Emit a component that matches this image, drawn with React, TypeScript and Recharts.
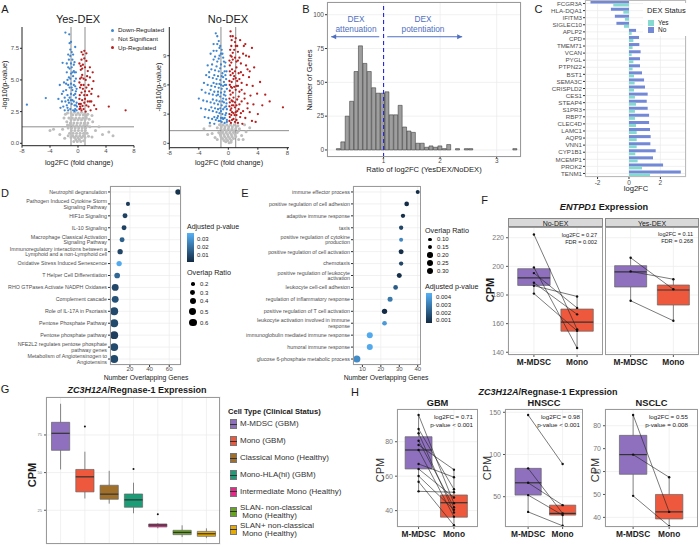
import React from "react";
import {
  ScatterChart,
  Scatter,
  ComposedChart,
  BarChart,
  Bar,
  XAxis,
  YAxis,
  ZAxis,
  CartesianGrid,
  ReferenceLine,
  ReferenceArea,
  Cell,
} from "recharts";

// ─── Styling constants ────────────────────────────────────────────────────────

const FONT = '"Liberation Sans", Arial, sans-serif';
const AXT = "#4d4d4d";
const GRID = "#ebebeb";
const FRAME = "#9a9a9a";
const BLUE = "#3f86d0";
const RED = "#b8201f";
const NSGRAY = "#bdbdbd";
const ARROW = "#4f6fc1";
const MDSC = "#8e70be";
const MONO = "#ee583c";

// ─── A: volcano points, [log2FC, -log10(p)] ───────────────────────────────────

const yesDown = [
  [-7.3, 3.05], [-4.6, 3.57], [-2.2, 6.35], [-1.8, 8.74], [-1.25, 8.6], [-1.0, 8.0], [-0.9, 7.2],
  [-1.1, 6.9], [-0.8, 6.6], [-0.6, 6.2], [-1.4, 6.0], [-1.6, 5.6], [-2.6, 4.6], [-2.0, 4.8],
  [-1.3, 5.2], [-1.0, 5.5], [-0.7, 5.3], [-0.5, 4.9], [-0.4, 4.5], [-1.2, 4.4], [-1.7, 4.2],
  [-2.3, 3.9], [-2.8, 3.5], [-1.9, 3.6], [-1.5, 3.8], [-1.0, 3.9], [-0.6, 3.8], [-0.3, 3.6],
  [-0.2, 3.2], [-0.5, 3.0], [-0.9, 3.1], [-1.3, 3.2], [-1.6, 3.0], [-2.1, 2.9], [-2.5, 2.8],
  [-1.1, 2.7], [-0.7, 2.6], [-0.4, 2.7], [-1.9, 2.6], [-1.4, 2.6], [-0.8, 4.2], [-1.1, 7.4],
  [-0.9, 6.0], [-0.6, 5.7], [-1.3, 6.6], [-0.3, 4.1], [-0.8, 3.4], [-1.2, 3.6], [-0.5, 2.55],
  [-1.0, 4.7], [-0.2, 2.6], [-0.3, 3.0], [-0.6, 3.3], [-1.0, 3.4], [-1.4, 3.4], [-1.8, 3.3],
  [-0.4, 3.9], [-0.9, 4.4], [-1.4, 4.6], [-0.2, 4.3], [-0.6, 4.6], [-1.1, 5.1], [-1.5, 5.0],
  [-0.3, 5.1], [-0.8, 5.6], [-1.2, 5.9], [-0.5, 6.4], [-0.7, 7.0], [-1.2, 7.9], [-1.4, 7.0],
  [-0.5, 5.6], [-1.7, 4.7], [-2.1, 4.1], [-0.15, 2.9], [-1.5, 2.8], [-2.3, 3.3], [-0.4, 7.6],
  [-1.0, 6.3], [-1.6, 6.3], [-0.3, 5.6],
];
const yesNS = [
  [-1.5, 2.4], [-1.0, 2.4], [-0.5, 2.45], [0, 2.4], [0.5, 2.45], [1.0, 2.4], [1.4, 2.3],
  [-1.3, 2.0], [-0.8, 2.0], [-0.3, 2.0], [0.2, 2.0], [0.7, 2.0], [1.2, 2.0], [1.6, 1.9],
  [-1.6, 1.7], [-1.1, 1.6], [-0.6, 1.6], [-0.1, 1.6], [0.4, 1.6], [0.9, 1.6], [1.4, 1.6],
  [-1.4, 1.2], [-0.9, 1.2], [-0.4, 1.2], [0.1, 1.2], [0.6, 1.2], [1.1, 1.2], [1.7, 1.3],
  [-1.2, 0.8], [-0.7, 0.8], [-0.2, 0.8], [0.3, 0.8], [0.8, 0.8], [1.3, 0.8], [-1.0, 0.45],
  [-0.5, 0.45], [0, 0.45], [0.5, 0.45], [1.0, 0.45], [-0.6, 0.15], [-0.1, 0.15], [0.4, 0.15],
  [0.8, 0.2], [-2.2, 1.1], [-3.5, 1.1], [-2.6, 0.7], [-1.9, 0.4], [2.1, 1.7], [2.5, 1.0],
  [3.5, 0.7], [4.4, 0.9], [5.0, 0.6], [2.0, 0.5], [-2.0, 2.0], [2.0, 2.2], [-4.0, 1.0], [3.0, 1.3],
  [-1.8, 2.3], [-0.75, 2.25], [-0.25, 2.25], [0.25, 2.25], [0.75, 2.25], [1.2, 2.2], [-1.5, 1.45],
  [-1.0, 1.85], [-0.5, 1.85], [0, 1.85], [0.5, 1.85], [1.0, 1.85], [-1.2, 1.4], [-0.7, 1.4],
  [-0.2, 1.4], [0.3, 1.4], [0.8, 1.4], [1.3, 1.4], [-0.95, 1.0], [-0.45, 1.0], [0.05, 1.0],
  [0.55, 1.0], [1.05, 1.0], [-0.75, 0.6], [-0.25, 0.6], [0.25, 0.6], [0.75, 0.6], [-0.3, 0.3],
  [0.2, 0.3], [-1.4, 0.6], [1.5, 0.55],
];
const yesUp = [
  [4.4, 2.9], [6.8, 2.6], [2.9, 3.7], [2.0, 4.3], [1.7, 3.3], [1.2, 6.5], [0.9, 7.3], [0.7, 7.0],
  [0.5, 6.6], [1.0, 6.0], [1.4, 5.7], [1.7, 5.2], [0.4, 5.8], [0.3, 5.1], [0.6, 5.4], [1.1, 5.0],
  [1.5, 4.6], [2.2, 4.9], [0.8, 4.6], [0.3, 4.4], [0.5, 4.0], [1.0, 4.1], [1.3, 3.8], [1.9, 3.9],
  [0.2, 3.5], [0.6, 3.4], [0.9, 3.2], [1.2, 3.0], [1.5, 2.9], [2.3, 3.0], [0.3, 2.9], [0.5, 2.6],
  [0.8, 2.7], [1.1, 2.5], [1.8, 2.6], [2.6, 2.7], [0.4, 3.1], [0.2, 2.7], [1.6, 4.1], [0.7, 6.2],
  [0.15, 3.1], [0.25, 3.8], [0.45, 4.6], [0.7, 4.3], [0.9, 3.8], [1.4, 3.3], [0.2, 4.8],
  [0.5, 5.2], [0.8, 5.1], [1.2, 4.4], [0.4, 6.1], [0.6, 5.9], [0.9, 6.7], [1.3, 5.3], [0.35, 2.75],
  [0.65, 2.95], [1.0, 3.5], [1.9, 3.3], [2.1, 5.6], [1.7, 6.0], [0.2, 6.3], [1.2, 7.1], [0.5, 7.2],
];
const noDown = [
  [-1.7, 11.3], [-1.5, 11.0], [-1.3, 10.5], [-2.0, 10.2], [-1.1, 10.0], [-0.9, 9.6], [-1.6, 9.5],
  [-2.4, 9.2], [-1.2, 9.0], [-0.7, 8.8], [-2.0, 8.6], [-1.5, 8.4], [-2.8, 8.0], [-1.0, 8.1],
  [-0.5, 7.9], [-2.3, 7.6], [-1.8, 7.5], [-1.3, 7.4], [-0.8, 7.2], [-0.4, 7.0], [-3.0, 7.0],
  [-2.6, 6.8], [-2.1, 6.7], [-1.6, 6.6], [-1.1, 6.5], [-0.6, 6.3], [-0.3, 6.0], [-3.3, 6.2],
  [-2.8, 6.0], [-2.3, 5.9], [-1.8, 5.8], [-1.3, 5.7], [-0.9, 5.6], [-0.5, 5.3], [-3.6, 5.5],
  [-3.1, 5.2], [-2.6, 5.1], [-2.1, 5.0], [-1.6, 4.9], [-1.1, 4.8], [-0.7, 4.6], [-0.3, 4.5],
  [-4.0, 4.6], [-3.4, 4.4], [-2.9, 4.3], [-2.4, 4.2], [-1.9, 4.1], [-1.4, 4.0], [-0.9, 3.9],
  [-0.5, 3.7], [-0.2, 3.5], [-3.7, 3.6], [-3.1, 3.5], [-2.6, 3.4], [-2.1, 3.3], [-1.6, 3.2],
  [-1.2, 3.1], [-0.8, 3.0], [-0.4, 2.9], [-3.2, 2.7], [-2.7, 2.6], [-2.2, 2.5], [-1.7, 2.4],
  [-1.3, 2.3], [-0.9, 2.2], [-0.5, 2.1], [-0.2, 2.4], [-2.5, 2.1], [-1.9, 2.0], [-1.0, 2.6],
  [-0.7, 2.5], [-0.3, 3.1], [-1.4, 2.8], [-1.1, 3.6], [-0.6, 4.2], [-1.4, 5.3], [-1.0, 6.0],
  [-0.7, 6.8], [-0.4, 8.3], [-1.0, 9.2], [-0.2, 2.2], [-0.5, 2.6], [-0.8, 2.6], [-1.1, 2.3],
  [-1.5, 2.6], [-1.9, 2.7], [-0.3, 3.8], [-0.7, 3.5], [-1.0, 3.3], [-1.4, 3.5], [-1.8, 3.6],
  [-2.3, 3.7], [-0.4, 4.9], [-0.8, 4.3], [-1.2, 4.3], [-1.6, 4.4], [-2.1, 4.5], [-0.2, 5.6],
  [-0.6, 5.0], [-1.0, 5.2], [-1.4, 5.0], [-1.9, 5.3], [-2.4, 5.5], [-0.3, 6.6], [-0.7, 5.9],
  [-1.2, 6.1], [-1.6, 6.1], [-2.0, 6.2], [-0.5, 7.4], [-0.9, 6.9], [-1.4, 6.9], [-1.9, 7.0],
  [-2.6, 7.3], [-0.6, 8.4], [-1.1, 7.7], [-1.6, 7.9], [-2.2, 8.1], [-0.8, 9.2], [-1.3, 8.7],
  [-1.8, 8.9], [-1.2, 9.8], [-2.0, 9.5], [-1.5, 10.2], [-0.25, 4.1], [-0.45, 6.0], [-0.25, 7.4],
];
const noNS = [
  [-1.2, 1.9], [-0.7, 1.9], [-0.2, 1.9], [0.3, 1.9], [0.8, 1.9], [1.3, 1.8], [-1.0, 1.5],
  [-0.5, 1.5], [0, 1.5], [0.5, 1.5], [1.0, 1.5], [-1.3, 1.1], [-0.8, 1.1], [-0.3, 1.1],
  [0.2, 1.1], [0.7, 1.1], [1.2, 1.1], [-1.0, 0.7], [-0.5, 0.7], [0, 0.7], [0.5, 0.7], [1.0, 0.7],
  [-0.6, 0.3], [-0.1, 0.3], [0.4, 0.3], [0.1, 0.05], [-2.2, 1.0], [-2.8, 0.9], [-1.8, 0.6],
  [1.8, 0.8], [2.4, 1.2], [2.0, 0.4], [-3.3, 1.5], [2.9, 1.6], [-1.5, 1.6], [-0.95, 1.7],
  [-0.45, 1.7], [0.05, 1.7], [0.55, 1.7], [1.05, 1.7], [1.5, 1.5], [-0.75, 1.3], [-0.25, 1.3],
  [0.25, 1.3], [0.75, 1.3], [1.4, 1.3], [-1.1, 0.9], [-0.6, 0.9], [-0.1, 0.9], [0.4, 0.9],
  [0.9, 0.9], [-0.8, 0.5], [-0.3, 0.5], [0.2, 0.5], [0.7, 0.5], [-0.35, 0.15], [0.35, 0.1],
  [-1.5, 0.4], [1.4, 0.4], [-2.5, 1.8], [2.2, 1.9],
];
const noUp = [
  [0.3, 11.5], [0.6, 11.0], [1.0, 10.8], [1.6, 10.6], [2.3, 10.2], [3.2, 9.8], [0.4, 10.0],
  [0.8, 9.6], [1.3, 9.4], [2.0, 9.2], [2.8, 8.9], [0.3, 9.0], [0.6, 8.6], [1.1, 8.4], [1.7, 8.2],
  [2.4, 8.0], [3.5, 7.8], [0.2, 8.0], [0.5, 7.6], [0.9, 7.4], [1.4, 7.2], [2.0, 7.0], [2.8, 6.8],
  [0.3, 7.0], [0.7, 6.6], [1.2, 6.4], [1.8, 6.2], [2.5, 6.0], [3.3, 5.9], [4.3, 6.3], [0.2, 6.0],
  [0.5, 5.7], [1.0, 5.5], [1.5, 5.3], [2.2, 5.1], [3.0, 4.9], [0.3, 5.0], [0.7, 4.7], [1.2, 4.5],
  [1.8, 4.3], [2.6, 4.1], [3.4, 4.0], [0.2, 4.2], [0.5, 3.9], [0.9, 3.7], [1.4, 3.5], [2.0, 3.3],
  [2.9, 3.2], [0.3, 3.4], [0.7, 3.1], [1.1, 2.9], [1.6, 2.7], [2.3, 2.6], [0.2, 2.7], [0.5, 2.4],
  [0.9, 2.2], [1.3, 2.1], [1.9, 2.0], [3.2, 2.3], [7.4, 3.7], [5.0, 5.0], [4.0, 3.0], [3.7, 2.2],
  [2.6, 7.6], [1.0, 10.0], [0.4, 8.3], [0.8, 6.9], [1.1, 5.9], [0.6, 4.3], [1.0, 3.2], [0.4, 2.9],
  [1.5, 8.8], [2.1, 10.0], [0.15, 2.3], [0.35, 2.1], [0.7, 2.5], [1.1, 2.4], [0.15, 3.0],
  [0.5, 3.2], [0.85, 2.9], [1.2, 3.3], [1.7, 3.1], [0.15, 3.8], [0.4, 3.6], [0.7, 3.9], [1.1, 3.9],
  [1.5, 4.0], [0.15, 4.6], [0.45, 4.4], [0.9, 4.2], [1.4, 4.8], [0.2, 5.4], [0.6, 5.2], [0.8, 5.8],
  [1.3, 5.9], [1.8, 5.5], [0.15, 6.4], [0.45, 6.3], [1.0, 6.7], [1.5, 6.6], [0.2, 7.4], [0.6, 7.2],
  [1.1, 7.8], [1.7, 7.3], [0.15, 8.5], [0.45, 8.9], [0.9, 8.8], [1.3, 8.5], [0.25, 9.6], [0.6, 9.3],
  [1.2, 10.0], [0.45, 10.6], [0.9, 10.4], [2.4, 9.0], [2.9, 7.4], [2.2, 4.6], [2.6, 3.6],
  [3.9, 5.1], [4.6, 3.9], [5.6, 4.3], [0.35, 5.8], [0.3, 11.0],
];

// ─── B: histogram of log2FC ratio ─────────────────────────────────────────────

const ratioBins = [
  0.205, 0.283, 0.361, 0.439, 0.517, 0.595, 0.673, 0.751, 0.829, 0.907, 0.985, 1.063, 1.141,
  1.219, 1.297, 1.375, 1.453, 1.531, 1.609, 1.687, 1.765, 1.843, 1.921, 1.999, 2.077, 2.155,
  2.233, 2.311, 2.389, 2.467, 2.545, 2.623, 2.701, 2.779, 2.857, 2.935, 3.013, 3.091, 3.169,
  3.247, 3.325,
];
const ratioCounts = [
  1, 6, 25, 36, 58, 77, 64, 58, 46, 42, 42, 43, 26, 26, 33, 17, 14, 13, 5, 5, 2, 3, 2, 3, 1, 4,
  0, 1, 0, 1, 1, 0, 0, 0, 0, 0, 0, 0, 0, 0, 1,
];

// ─── C: log2FC per gene by DEX status ─────────────────────────────────────────

const cGenes = [
  "FCGR3A", "HLA-DQA1", "IFITM3", "SIGLEC10", "APLP2", "CPD", "TMEM71", "VCAN", "PYGL", "PTPN22",
  "BST1", "SEMA3C", "CRISPLD2", "CES1", "STEAP4", "S1PR3", "RBP7", "CLEC4D", "LAMC1", "AQP9",
  "VNN1", "CYP1B1", "MCEMP1", "PROK2", "TENM1",
];
const cNo = [
  -2.45, -1.15, -0.9, -0.8, 0.45, 0.64, 0.66, 0.74, 0.7, 0.7, 0.83, 0.96, 1.02, 1.19, 1.13, 1.19,
  1.28, 1.28, 1.34, 1.38, 1.36, 1.7, 1.53, 2.17, 3.3,
];
const cYes = [
  -1.0, -0.36, -0.26, -0.32, 0.17, 0.28, 0.23, 0.17, 0.28, 0.23, 0.32, 0.36, 0.32, 0.38, 0.45,
  0.38, 0.38, 0.45, 0.49, 0.49, 0.49, 0.4, 0.55, 0.83, 1.34,
];

// ─── D: pathway enrichment ────────────────────────────────────────────────────

const dTerms = [
  "Neutrophil degranulation",
  "Pathogen Induced Cytokine Storm\nSignaling Pathway",
  "HIF1α Signaling",
  "IL-10 Signaling",
  "Macrophage Classical Activation\nSignaling Pathway",
  "Immunoregulatory interactions between a\nLymphoid and a non-Lymphoid cell",
  "Oxidative Stress Induced Senescence",
  "T Helper Cell Differentiation",
  "RHO GTPases Activate NADPH Oxidases",
  "Complement cascade",
  "Role of IL-17A in Psoriasis",
  "Pentose Phosphate Pathway",
  "Pentose phosphate pathway",
  "NFE2L2 regulates pentose phosphate\npathway genes",
  "Metabolism of Angiotensinogen to\nAngiotensins",
];
const dGenes = [69, 18, 15, 14, 12, 10, 9, 7, 5, 5, 4, 4, 4, 4, 4];
const dPadj = [0.004, 0.006, 0.008, 0.008, 0.016, 0.009, 0.036, 0.018, 0.009, 0.012, 0.01, 0.01, 0.007, 0.01, 0.01];
const dRatio = [0.35, 0.23, 0.3, 0.3, 0.3, 0.33, 0.33, 0.37, 0.5, 0.5, 0.63, 0.63, 0.63, 0.63, 0.63];

// ─── E: GO enrichment ─────────────────────────────────────────────────────────

const eTerms = [
  "immune effector process",
  "positive regulation of cell adhesion",
  "adaptive immune response",
  "taxis",
  "positive regulation of cytokine\nproduction",
  "positive regulation of cell activation",
  "chemotaxis",
  "positive regulation of leukocyte\nactivation",
  "leukocyte cell-cell adhesion",
  "regulation of inflammatory response",
  "positive regulation of T cell activation",
  "leukocyte activation involved in immune\nresponse",
  "immunoglobulin mediated immune response",
  "humoral immune response",
  "glucose 6-phosphate metabolic process",
];
const eGenes = [40, 34, 32, 31, 31, 31, 31, 30, 28, 25, 22, 22, 14, 14, 7];
const ePadj = [0.0008, 0.0008, 0.0009, 0.0015, 0.0033, 0.0009, 0.0015, 0.0009, 0.0021, 0.0029, 0.0008, 0.0038, 0.0042, 0.0042, 0.0034];
const eRatio = [0.13, 0.164, 0.146, 0.146, 0.13, 0.183, 0.146, 0.183, 0.164, 0.183, 0.204, 0.164, 0.25, 0.25, 0.33];

// ─── F: ENTPD1, boxes as [lo, q1, median, q3, hi], pairs as [M-MDSC, Mono] ───

const pairGroups = ["M-MDSC", "Mono"];
const fNoBox = [[181, 186.7, 192, 198.4, 199.3], [143, 154.7, 161, 170.2, 179]];
const fNoPairs = [[222.3, 156], [199.3, 143], [195.3, 171], [188.6, 166.5], [186.5, 179], [181, 155]];
const fYesBox = [[176, 185.6, 196.1, 200.5, 206], [162, 173, 183.5, 187, 190.5]];
const fYesPairs = [[206, 184], [196.5, 191], [176, 162]];

// ─── G: ZC3H12A across cell types ─────────────────────────────────────────────

const gTypes = [
  "M-MDSC (GBM)", "Mono (GBM)", "Classical Mono (Healthy)", "Mono-HLA(hi) (GBM)",
  "Intermediate Mono (Healthy)", "SLAN- non-classical\nMono (Healthy)", "SLAN+ non-classical\nMono (Healthy)",
];
const gColors = ["#8e70be", "#ee583c", "#a0702a", "#1b9e77", "#e7298a", "#66a61e", "#e6ab02"];
const gBox = [
  [52.1, 64.8, 76.1, 83.4, 95.7],
  [32.8, 37.2, 47.2, 52.1, 63.9],
  [29.4, 32.3, 35.7, 41.6, 51.2],
  [23, 27, 31.9, 35.8, 43.3],
  [13, 13.9, 15.2, 15.9, 16.5],
  [7.2, 8.8, 10.3, 11.7, 15],
  [6.5, 7.7, 9.4, 11, 13],
];
const gOutliers = [[2, 80.6], [4, 52.4], [5, 22.3]];

// ─── H: ZC3H12A by cancer ─────────────────────────────────────────────────────

const hGbmBox = [[51.2, 64.2, 75.2, 82.9, 95.5], [31.5, 36.2, 44.6, 49.1, 63.8]];
const hGbmPairs = [
  [95.5, 44.3], [87.4, 52.4], [84.9, 38.9], [80.6, 42], [78.1, 63.8], [75.2, 36.5],
  [67.1, 59.4], [64.2, 47.6], [60.1, 40.5], [56.8, 31.5], [51.2, 50.7],
];
const hHnsccBox = [[32, 51.9, 66.5, 83.6, 83.6], [15.5, 28.2, 30.2, 40, 40]];
const hHnsccPairs = [[146.8, 88.7], [83.6, 30.2], [66.5, 40], [51.9, 28.2], [32, 15.5]];
const hNsclcBox = [[49.4, 58.8, 67.4, 75.8, 84.7], [36.2, 39.3, 42.4, 50, 57.5]];
const hNsclcPairs = [[84.7, 42.4], [67.4, 57.5], [49.4, 36.2]];

// ─── Helpers ──────────────────────────────────────────────────────────────────

const xy = (a: number[][]) => a.map(([x, y]) => ({ x, y }));

const dotShape = (fill: string, r: number) => (p: any) =>
  p.cx == null ? <g /> : <circle cx={p.cx} cy={p.cy} r={r} fill={fill} />;

/** ggplot's default continuous colour scale (dark navy -> light blue). */
function pcol(p: number, lo: number, hi: number): string {
  const t = Math.max(0, Math.min(1, (p - lo) / (hi - lo)));
  const a = [0x13, 0x2b, 0x43];
  const b = [0x56, 0xb1, 0xf7];
  return `rgb(${a.map((v, i) => Math.round(v + (b[i] - v) * t)).join(",")})`;
}

function T({ x, y, s = 7, c = "#1a1a1a", b = false, i = false, a = "m", r = 0, children }: any) {
  const tx = a === "m" ? "-50%" : a === "e" ? "-100%" : "0%";
  return (
    <div
      style={{
        position: "absolute",
        left: x,
        top: y,
        transform: `translate(${tx}, -50%)${r ? ` rotate(${r}deg)` : ""}`,
        fontSize: s,
        lineHeight: 1,
        color: c,
        fontWeight: b ? 700 : 400,
        fontStyle: i ? "italic" : "normal",
        whiteSpace: "pre",
        fontFamily: FONT,
      }}
    >
      {children}
    </div>
  );
}

function Frame({ x, y, w, h, c = FRAME }: any) {
  return (
    <div
      style={{
        position: "absolute", left: x, top: y, width: w, height: h,
        border: `0.8px solid ${c}`, boxSizing: "border-box", pointerEvents: "none",
      }}
    />
  );
}

function Dot({ x, y, r, c = "#000" }: any) {
  return (
    <div
      style={{
        position: "absolute", left: x - r, top: y - r, width: 2 * r, height: 2 * r,
        borderRadius: "50%", background: c,
      }}
    />
  );
}

// ─── Panel A ──────────────────────────────────────────────────────────────────

function Volcano({ left, width, yW, xH, xDomain, yDomain, yTicks, yFmt, down, ns, up }: any) {
  return (
    <div style={{ position: "absolute", left, top: 0 }}>
      <ScatterChart width={width} height={162} margin={{ top: 27, right: 4, bottom: 0, left: 0 }}>
        <XAxis
          type="number" dataKey="x" domain={xDomain} ticks={[-8, -4, 0, 4, 8]} allowDataOverflow
          height={xH} tick={{ fontSize: 6, fill: AXT }} tickSize={2} tickMargin={1}
          axisLine={{ stroke: "#222" }} tickLine={{ stroke: "#222" }}
        />
        <YAxis
          type="number" dataKey="y" domain={yDomain} ticks={yTicks} tickFormatter={yFmt} allowDataOverflow
          width={yW} tick={{ fontSize: 6, fill: AXT }} tickSize={2} tickMargin={1}
          axisLine={{ stroke: "#222" }} tickLine={{ stroke: "#222" }}
        />
        <Scatter data={xy(ns)} shape={dotShape(NSGRAY, 1.5)} isAnimationActive={false} />
        <Scatter data={xy(down)} shape={dotShape(BLUE, 1.15)} isAnimationActive={false} />
        <Scatter data={xy(up)} shape={dotShape(RED, 1.15)} isAnimationActive={false} />
        <ReferenceLine x={-1} stroke="#707070" strokeWidth={0.8} />
        <ReferenceLine x={1} stroke="#707070" strokeWidth={0.8} />
        <ReferenceLine y={1.3} stroke="#707070" strokeWidth={0.8} />
      </ScatterChart>
    </div>
  );
}

// ─── Panels D/E ───────────────────────────────────────────────────────────────

const TermTick = (props: any) => {
  const { x, y, payload } = props;
  const lines = String(payload.value).split("\n");
  const lh = 5.7;
  const y0 = y - ((lines.length - 1) * lh) / 2 + 1.9;
  return (
    <text x={x} y={y0} textAnchor="end" fontSize={5.3} fill={AXT} fontFamily={FONT}>
      {lines.map((l, i) => (
        <tspan key={i} x={x} y={y0 + i * lh}>{l}</tspan>
      ))}
    </text>
  );
};

function DotPlot({ left, yW, width, terms, genes, padj, ratio, xDomain, xTicks, zDomain, zRange, pLo, pHi }: any) {
  const data = terms.map((t: string, i: number) => ({ term: t, n: genes[i], p: padj[i], ratio: ratio[i] }));
  return (
    <div style={{ position: "absolute", left, top: 180 }}>
      <ScatterChart width={width} height={200} margin={{ top: 6, right: 4, bottom: 0, left: 0 }}>
        <CartesianGrid stroke={GRID} strokeWidth={0.7} />
        <XAxis
          type="number" dataKey="n" domain={xDomain} ticks={xTicks} allowDataOverflow height={15}
          tick={{ fontSize: 6, fill: AXT }} tickSize={2} tickMargin={0} axisLine={false} tickLine={{ stroke: "#333" }}
        />
        <YAxis
          type="category" dataKey="term" scale="band" reversed allowDuplicatedCategory={false} interval={0}
          width={yW} tick={<TermTick />} tickSize={2} tickMargin={1} axisLine={false} tickLine={{ stroke: "#333" }}
        />
        <ZAxis type="number" dataKey="ratio" domain={zDomain} range={zRange} />
        <Scatter data={data} isAnimationActive={false}>
          {data.map((d: any, i: number) => (
            <Cell key={i} fill={pcol(d.p, pLo, pHi)} />
          ))}
        </Scatter>
      </ScatterChart>
    </div>
  );
}

// ─── Box plots (F, G, H) ──────────────────────────────────────────────────────

function BoxPanel(p: any) {
  const {
    left, top, width, height, mTop, mBottom = 0, yW, xH, xDomain, yDomain, yTicks, labels, boxes, colors,
    pairs = [], outliers = [], hw, yFs = 7, hideY = false, hideX = false,
  } = p;
  const pos = labels.map((_: string, i: number) => i + 1);
  return (
    <div style={{ position: "absolute", left, top }}>
      <ScatterChart width={width} height={height} margin={{ top: mTop, right: 0, bottom: mBottom, left: 0 }}>
        <CartesianGrid stroke={GRID} strokeWidth={0.7} />
        <XAxis
          type="number" dataKey="x" domain={xDomain} ticks={pos} interval={0} allowDataOverflow
          tickFormatter={(v: number) => labels[Math.round(v) - 1] ?? ""} height={xH} hide={hideX}
          tick={{ fontSize: 8.3, fill: "#1a1a1a", fontWeight: 700 }} tickSize={2} tickMargin={2}
          axisLine={false} tickLine={{ stroke: "#555" }}
        />
        <YAxis
          type="number" dataKey="y" domain={yDomain} ticks={yTicks} allowDataOverflow width={yW} hide={hideY}
          tick={{ fontSize: yFs, fill: "#777" }} tickSize={2} tickMargin={2} axisLine={false} tickLine={{ stroke: "#555" }}
        />
        {boxes.map((b: number[], i: number) => [
          <ReferenceLine key={`wl${i}`} segment={[{ x: i + 1, y: b[0] }, { x: i + 1, y: b[1] }]} stroke="#555" strokeWidth={0.7} />,
          <ReferenceLine key={`wh${i}`} segment={[{ x: i + 1, y: b[3] }, { x: i + 1, y: b[4] }]} stroke="#555" strokeWidth={0.7} />,
          <ReferenceArea
            key={`bx${i}`} x1={i + 1 - hw} x2={i + 1 + hw} y1={b[1]} y2={b[3]}
            fill={colors[i]} fillOpacity={1} stroke="#666" strokeWidth={0.7}
          />,
          <ReferenceLine
            key={`md${i}`} segment={[{ x: i + 1 - hw, y: b[2] }, { x: i + 1 + hw, y: b[2] }]}
            stroke="#333" strokeWidth={1.2}
          />,
        ])}
        {pairs.map((pr: number[], i: number) => (
          <Scatter
            key={`p${i}`} data={[{ x: 1, y: pr[0] }, { x: 2, y: pr[1] }]}
            line={{ stroke: "#222", strokeWidth: 0.6 }} shape={dotShape("#111", 1.2)} isAnimationActive={false}
          />
        ))}
        {outliers.length > 0 && <Scatter data={xy(outliers)} shape={dotShape("#111", 1)} isAnimationActive={false} />}
      </ScatterChart>
    </div>
  );
}

// ─── App ──────────────────────────────────────────────────────────────────────

const arrowL = (p: any) => <path d={`M${p.cx},${p.cy} l5,-2.6 l0,5.2 z`} fill={ARROW} />;
const arrowR = (p: any) => <path d={`M${p.cx},${p.cy} l-5,-2.6 l0,5.2 z`} fill={ARROW} />;

export default function App() {
  const hist = ratioBins.map((x, i) => ({ x, y: ratioCounts[i] }));
  const cData = cGenes.map((g, i) => ({ gene: g, no: cNo[i], yes: cYes[i] }));

  // size legend radii follow the same linear area mapping as the ZAxis
  const dR = (v: number) => Math.sqrt((89 * (v - 0.082)) / Math.PI);
  const eR = (v: number) => Math.sqrt((131 * (v - 0.0336)) / Math.PI);

  return (
    <div
      style={{
        position: "absolute", left: 0, top: 0, width: 700, height: 545,
        background: "#fff", overflow: "hidden", fontFamily: FONT,
      }}
    >
      {/* ── A ── */}
      <T x={5} y={9} s={11}>A</T>
      <Volcano
        left={0} width={138} yW={22} xH={16.3} xDomain={[-8, 8]} yDomain={[-0.19, 9.18]}
        yTicks={[0, 2.5, 5, 7.5]} yFmt={(v: number) => v.toFixed(1)} down={yesDown} ns={yesNS} up={yesUp}
      />
      <Volcano
        left={145} width={148} yW={24.3} xH={14.3} xDomain={[-8, 8.22]} yDomain={[-0.45, 11.95]}
        yTicks={[0, 3, 6, 9]} yFmt={(v: number) => String(v)} down={noDown} ns={noNS} up={noUp}
      />
      <T x={78} y={18.5} s={11}>Yes-DEX</T>
      <T x={228} y={18.5} s={11}>No-DEX</T>
      <Dot x={112} y={30} r={1.5} c={BLUE} />
      <Dot x={112} y={39} r={1.5} c={NSGRAY} />
      <Dot x={112} y={47.7} r={1.5} c={RED} />
      <T x={118} y={30} s={6.2} a="s">Down-Regulated</T>
      <T x={118} y={39} s={6.2} a="s">Not Significant</T>
      <T x={118} y={47.7} s={6.2} a="s">Up-Regulated</T>
      <T x={5} y={85} s={7.3} r={-90}>-log10(p-value)</T>
      <T x={159} y={87} s={7.3} r={-90}>-log10(p-value)</T>
      <T x={79} y={162.7} s={7.3}>log2FC (fold change)</T>
      <T x={229} y={162.7} s={7.3}>log2FC (fold change)</T>

      {/* ── B ── */}
      <T x={306} y={8.5} s={11}>B</T>
      <div style={{ position: "absolute", left: 298, top: 0 }}>
        <ComposedChart
          width={227} height={170} data={hist} margin={{ top: 2, right: 4, bottom: 0, left: 0 }}
          barCategoryGap={0} barGap={0}
        >
          <CartesianGrid stroke={GRID} strokeWidth={0.7} xAxisId="num" />
          {/* hidden band axis: one band per bin, padded so bins sit on the numeric scale */}
          <XAxis xAxisId="bins" type="category" dataKey="x" hide height={0} padding={{ left: 9.39, right: 3.73 }} />
          <XAxis
            xAxisId="num" type="number" dataKey="x" domain={[0, 3.43]} ticks={[1, 2, 3]} allowDataOverflow height={13}
            tick={{ fontSize: 6.3, fill: AXT }} tickSize={1.5} tickMargin={0} axisLine={false} tickLine={{ stroke: "#333" }}
          />
          <YAxis
            type="number" dataKey="y" domain={[-5.2, 109.4]} ticks={[0, 25, 50, 75, 100]} allowDataOverflow width={29}
            tick={{ fontSize: 6.5, fill: AXT }} tickSize={2} tickMargin={1} axisLine={false} tickLine={{ stroke: "#333" }}
          />
          <Bar xAxisId="bins" dataKey="y" fill="#9e9e9e" stroke="#2b2b2b" strokeWidth={0.5} isAnimationActive={false} />
          <ReferenceLine xAxisId="num" x={1} stroke="#2a2ad8" strokeDasharray="4 3" strokeWidth={1.1} />
          <ReferenceLine xAxisId="num" segment={[{ x: 0.074, y: 83.7 }, { x: 0.924, y: 83.7 }]} stroke={ARROW} strokeWidth={1} />
          <ReferenceLine xAxisId="num" segment={[{ x: 1.065, y: 83.7 }, { x: 2.39, y: 83.7 }]} stroke={ARROW} strokeWidth={1} />
          <Scatter xAxisId="num" data={[{ x: 0.074, y: 83.7 }]} shape={arrowL} isAnimationActive={false} />
          <Scatter xAxisId="num" data={[{ x: 2.39, y: 83.7 }]} shape={arrowR} isAnimationActive={false} />
        </ComposedChart>
      </div>
      <Frame x={327} y={2} w={194} h={155} />
      <T x={356} y={18.5} s={8.3} c={ARROW}>DEX</T>
      <T x={356} y={29} s={8.3} c={ARROW}>attenuation</T>
      <T x={423} y={18.5} s={8.3} c={ARROW}>DEX</T>
      <T x={423} y={29} s={8.3} c={ARROW}>potentiation</T>
      <T x={310} y={80} s={7.8} r={-90}>Number of Genes</T>
      <T x={424} y={169.5} s={7.6}>Ratio of log2FC (YesDEX/NoDEX)</T>

      {/* ── C ── */}
      <T x={538.5} y={8.5} s={11}>C</T>
      <div style={{ position: "absolute", left: 528, top: 0 }}>
        <BarChart
          layout="vertical" width={167} height={195} data={cData}
          margin={{ top: 0, right: 9, bottom: 0, left: 0 }} barCategoryGap="8%" barGap={0}
        >
          <CartesianGrid stroke={GRID} strokeWidth={0.7} />
          <XAxis
            type="number" domain={[-2.8, 3.63]} ticks={[-2, 0, 2]} allowDataOverflow height={18}
            tick={{ fontSize: 6.5, fill: AXT }} tickSize={2} tickMargin={1} axisLine={false} tickLine={{ stroke: "#333" }}
          />
          <YAxis
            type="category" dataKey="gene" width={57} interval={0}
            tick={{ fontSize: 6.2, fill: AXT }} tickSize={2} tickMargin={1} axisLine={false} tickLine={{ stroke: "#333" }}
          />
          <Bar dataKey="no" fill="#7388d6" isAnimationActive={false} />
          <Bar dataKey="yes" fill="#86d9cf" isAnimationActive={false} />
        </BarChart>
      </div>
      <Frame x={585} y={0} w={101} h={177} c="#bbb" />
      <div style={{ position: "absolute", left: 643, top: 3, width: 48, height: 33, background: "#fff" }} />
      <T x={647} y={10.7} s={7.5} a="s">DEX Status</T>
      <div style={{ position: "absolute", left: 648, top: 19.5, width: 6, height: 6, background: "#86d9cf" }} />
      <div style={{ position: "absolute", left: 648, top: 26.5, width: 6, height: 6, background: "#7388d6" }} />
      <T x={658} y={22.7} s={6.5} a="s">Yes</T>
      <T x={658} y={29.6} s={6.5} a="s">No</T>
      <T x={636} y={189} s={7.6}>log2FC</T>

      {/* ── D ── */}
      <T x={5} y={193} s={11}>D</T>
      <DotPlot
        left={0} width={185} yW={110} terms={dTerms} genes={dGenes} padj={dPadj} ratio={dRatio}
        xDomain={[-0.3, 72]} xTicks={[20, 40, 60]} zDomain={[0.082, 0.7]} zRange={[0, 55]} pLo={0.0017} pHi={0.0379}
      />
      <Frame x={110} y={186} w={71} h={179} />
      <T x={187} y={226} s={7} a="s">Adjusted p-value</T>
      <div
        style={{
          position: "absolute", left: 187, top: 232.7, width: 7, height: 29,
          background: "linear-gradient(to bottom, #56b1f7, #132b43)",
        }}
      />
      <T x={197} y={239} s={6} a="s">0.03</T>
      <T x={197} y={247} s={6} a="s">0.02</T>
      <T x={197} y={255} s={6} a="s">0.01</T>
      <T x={187} y={272.7} s={7.2} a="s">Overlap Ratio</T>
      {[0.2, 0.3, 0.4, 0.5, 0.6].map((v, i) => (
        <React.Fragment key={v}>
          <Dot x={192.7} y={[284.3, 292.5, 301, 311.5, 322.5][i]} r={dR(v)} />
          <T x={200} y={[284.3, 292.5, 301, 311.5, 322.5][i]} s={6} a="s">{v.toFixed(1)}</T>
        </React.Fragment>
      ))}
      <T x={146} y={377.5} s={6.8}>Number Overlapping Genes</T>

      {/* ── E ── */}
      <T x={245} y={193} s={11}>E</T>
      <DotPlot
        left={240} width={184.5} yW={113} terms={eTerms} genes={eGenes} padj={ePadj} ratio={eRatio}
        xDomain={[4.9, 41.5]} xTicks={[10, 20, 30, 40]} zDomain={[0.0336, 0.36]} zRange={[0, 42.8]} pLo={0.00076} pHi={0.00443}
      />
      <Frame x={353} y={186} w={67.5} h={179} />
      <T x={425} y={230.7} s={7.2} a="s">Overlap Ratio</T>
      {[0.1, 0.15, 0.2, 0.25, 0.3].map((v, i) => (
        <React.Fragment key={v}>
          <Dot x={430} y={[239.3, 247.3, 255, 263.3, 271][i]} r={eR(v)} />
          <T x={437} y={[239.3, 247.3, 255, 263.3, 271][i]} s={6} a="s">{v.toFixed(2)}</T>
        </React.Fragment>
      ))}
      <T x={425} y={287.3} s={7.2} a="s">Adjusted p-value</T>
      <div
        style={{
          position: "absolute", left: 425.7, top: 293.3, width: 6.6, height: 29.4,
          background: "linear-gradient(to bottom, #56b1f7, #132b43)",
        }}
      />
      <T x={436} y={296.7} s={6} a="s">0.004</T>
      <T x={436} y={304.7} s={6} a="s">0.003</T>
      <T x={436} y={312.7} s={6} a="s">0.002</T>
      <T x={436} y={320.3} s={6} a="s">0.001</T>
      <T x={386} y={377.5} s={6.8}>Number Overlapping Genes</T>

      {/* ── F ── */}
      <T x={484.5} y={200} s={11}>F</T>
      <T x={604} y={208.3} s={9.2} b>
        <i>ENTPD1</i> Expression
      </T>
      <BoxPanel
        left={478} top={222} width={125} height={150} mTop={5} yW={30} xH={17}
        xDomain={[0.4, 2.6]} yDomain={[138.1, 227.5]} yTicks={[140, 160, 180, 200, 220]}
        labels={pairGroups} boxes={fNoBox} colors={[MDSC, MONO]} pairs={fNoPairs} hw={0.375}
      />
      <BoxPanel
        left={605} top={222} width={94} height={150} mTop={5} yW={0} xH={17} hideY
        xDomain={[0.4, 2.6]} yDomain={[138.1, 227.5]} yTicks={[140, 160, 180, 200, 220]}
        labels={pairGroups} boxes={fYesBox} colors={[MDSC, MONO]} pairs={fYesPairs} hw={0.375}
      />
      <Frame x={508} y={227} w={95} h={128} />
      <Frame x={605} y={227} w={94} h={128} />
      <div style={{ position: "absolute", left: 508, top: 218.3, width: 95, height: 9, background: "#d9d9d9", border: "0.8px solid #888", boxSizing: "border-box" }} />
      <div style={{ position: "absolute", left: 605, top: 218.3, width: 94, height: 9, background: "#d9d9d9", border: "0.8px solid #888", boxSizing: "border-box" }} />
      <T x={555.5} y={223} s={7}>No-DEX</T>
      <T x={652} y={223} s={7}>Yes-DEX</T>
      <T x={597} y={235.5} s={5.6} a="e">log2FC = 0.27</T>
      <T x={597} y={242.5} s={5.6} a="e">FDR = 0.002</T>
      <T x={693} y={235} s={5.6} a="e">log2FC = 0.11</T>
      <T x={693} y={242.3} s={5.6} a="e">FDR = 0.268</T>
      <T x={490} y={290} s={11} b r={-90}>CPM</T>

      {/* ── G ── */}
      <T x={5} y={389} s={11}>G</T>
      <T x={137} y={390} s={9} b>
        <i>ZC3H12A</i>/Regnase-1 Expression
      </T>
      <BoxPanel
        left={16} top={392} width={205} height={153} mTop={5} mBottom={1} yW={30} xH={0} hideX
        xDomain={[0.4, 7.6]} yDomain={[2.6, 100.2]} yTicks={[25, 50, 75]} yFs={4}
        labels={gTypes} boxes={gBox} colors={gColors} outliers={gOutliers} hw={0.375}
      />
      <Frame x={46} y={397} w={174} h={147} />
      <T x={32} y={475} s={11} b r={-90}>CPM</T>
      <T x={228} y={412.3} s={7.6} b a="s">Cell Type (Clinical Status)</T>
      {gTypes.map((t, i) => {
        const yc = [424.3, 441, 458.3, 475, 491.7, 511.7, 529.5][i];
        return (
          <React.Fragment key={t}>
            <div
              style={{
                position: "absolute", left: 230, top: yc - 5, width: 7, height: 10,
                background: gColors[i], border: "0.6px solid #777", boxSizing: "border-box",
              }}
            />
            <div style={{ position: "absolute", left: 230, top: yc - 0.4, width: 7, height: 0.9, background: "#333" }} />
            <T x={240} y={yc} s={8} c="#333" a="s">{t.replace("\n", "\n ")}</T>
          </React.Fragment>
        );
      })}

      {/* ── H ── */}
      <T x={355} y={392} s={11}>H</T>
      <T x={548} y={391.7} s={9} b>
        <i>ZC3H12A</i>/Regnase-1 Expression
      </T>
      <T x={437.5} y={404.3} s={9.3} b>GBM</T>
      <T x={544} y={404.3} s={9.3} b>HNSCC</T>
      <T x={651.5} y={404.3} s={9.3} b>NSCLC</T>
      <BoxPanel
        left={367} top={404} width={111} height={140} mTop={5} yW={30} xH={17}
        xDomain={[0.39, 2.68]} yDomain={[30.5, 99]} yTicks={[40, 60, 80]}
        labels={pairGroups} boxes={hGbmBox} colors={[MDSC, MONO]} pairs={hGbmPairs} hw={0.38}
      />
      <BoxPanel
        left={475} top={404} width={108} height={140} mTop={5} yW={30} xH={17}
        xDomain={[0.33, 2.59]} yDomain={[14.1, 153.9]} yTicks={[50, 100, 150]}
        labels={pairGroups} boxes={hHnsccBox} colors={[MDSC, MONO]} pairs={hHnsccPairs} hw={0.38}
      />
      <BoxPanel
        left={575} top={404} width={123} height={140} mTop={5} yW={30} xH={17}
        xDomain={[0.22, 2.8]} yDomain={[35.8, 87.3]} yTicks={[40, 50, 60, 70, 80]}
        labels={pairGroups} boxes={hNsclcBox} colors={[MDSC, MONO]} pairs={hNsclcPairs} hw={0.38}
      />
      <Frame x={397} y={409} w={81} h={118} />
      <Frame x={505} y={409} w={78} h={118} />
      <Frame x={605} y={409} w={93} h={118} />
      <T x={380} y={470} s={11} c="#333" r={-90}>CPM</T>
      <T x={487} y={468} s={11} c="#333" r={-90}>CPM</T>
      <T x={595} y={470} s={11} c="#333" r={-90}>CPM</T>
      <T x={473} y={416.7} s={6.2} a="e">log2FC = 0.71</T>
      <T x={473} y={425} s={6.2} a="e">p-value &lt; 0.001</T>
      <T x={580} y={416.7} s={6.2} a="e">log2FC = 0.98</T>
      <T x={580} y={425} s={6.2} a="e">p-value &lt; 0.001</T>
      <T x={688} y={416.7} s={6.2} a="e">log2FC = 0.55</T>
      <T x={688} y={425} s={6.2} a="e">p-value = 0.008</T>
    </div>
  );
}
